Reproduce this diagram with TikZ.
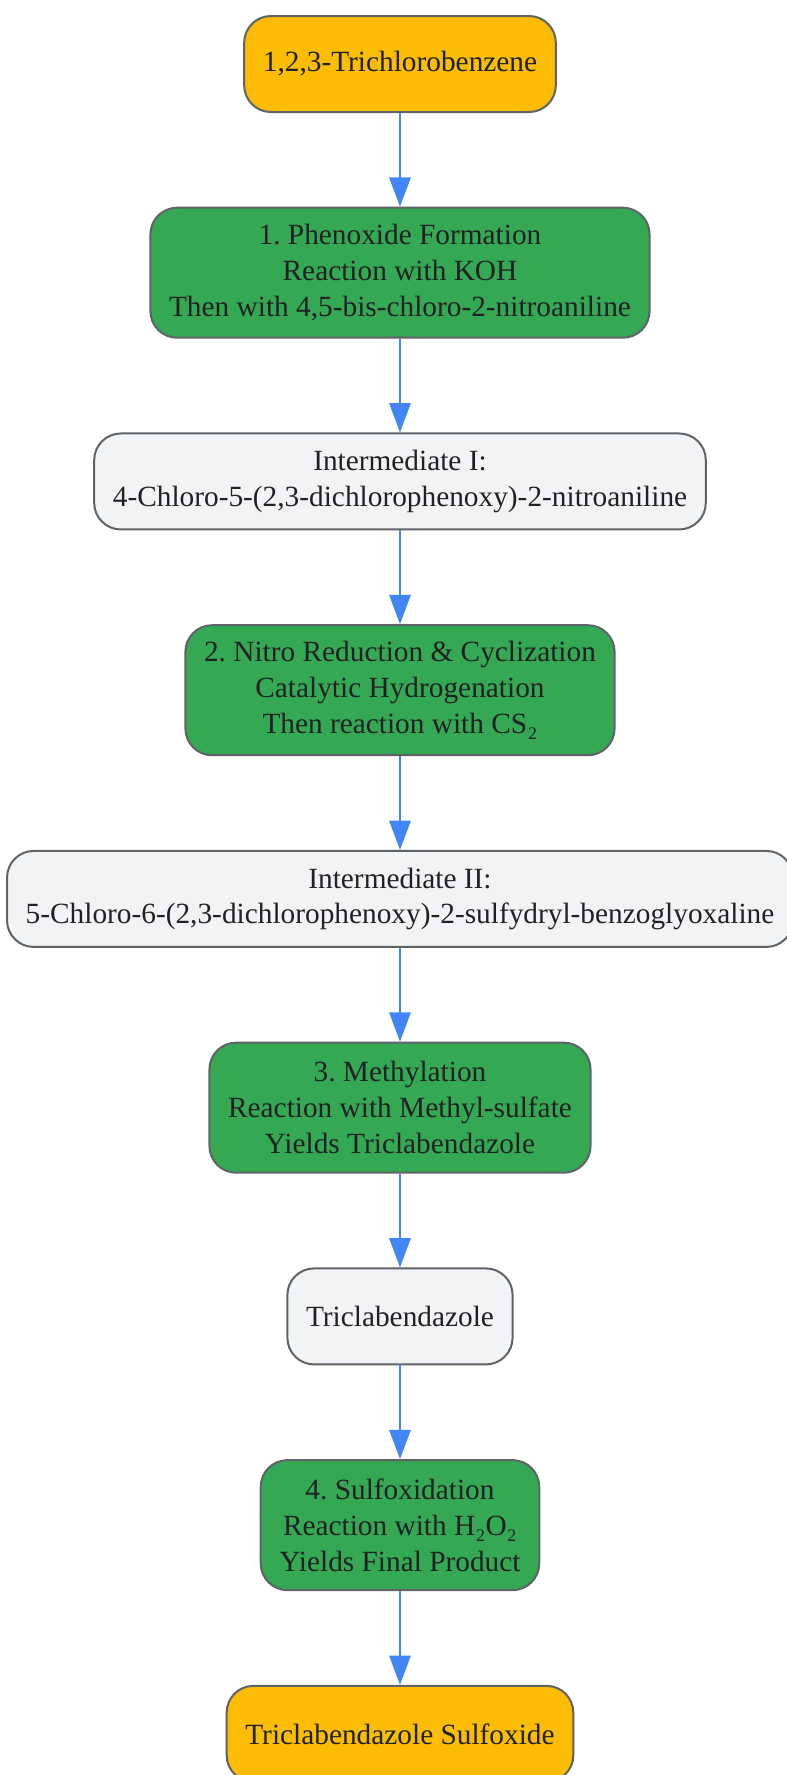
\documentclass[tikz,border=0pt]{standalone}
\usepackage{fontspec}
\setmainfont{Liberation Serif}
\usetikzlibrary{positioning,arrows.meta}
\definecolor{amarelo}{HTML}{FBBC04}
\definecolor{verde}{HTML}{34A853}
\definecolor{cinza}{HTML}{F1F3F4}
\definecolor{borda}{HTML}{5F6368}
\definecolor{azul}{HTML}{4285F4}
\definecolor{texto}{HTML}{202124}
\frenchspacing
\tikzset{
	caixa/.style={draw=borda, line width=1.5pt, rounded corners=20pt, align=center, text=texto,
		inner xsep=14pt, inner ysep=4pt, font=\fontsize{22pt}{26.8pt}\selectfont},
	inicio/.style={caixa, fill=amarelo, minimum height=72pt},
	etapa/.style={caixa, fill=verde, minimum height=97.5pt},
	produto/.style={caixa, fill=cinza, minimum height=72pt},
	seta/.style={-{Triangle[width=16pt,length=22pt]}, azul, line width=1.5pt}
}
\begin{document}
\begin{tikzpicture}[node distance=70.3pt] %Início do desenho
	\useasboundingbox (-300pt,48pt) rectangle (290.25pt,-1283.25pt); %Margens
		%Caixas
	\node[inicio] (tcb) at (0,0) {1,2,3-Trichlorobenzene};
	\node[etapa, below=of tcb] (etapa1) {1. Phenoxide Formation\\Reaction with KOH\\Then with 4,5-bis-chloro-2-nitroaniline};
	\node[produto, below=of etapa1] (inter1) {Intermediate I:\\4-Chloro-5-(2,3-dichlorophenoxy)-2-nitroaniline};
	\node[etapa, below=of inter1] (etapa2) {2. Nitro Reduction \& Cyclization\\Catalytic Hydrogenation\\Then reaction with CS₂};
	\node[produto, below=of etapa2] (inter2) {Intermediate II:\\5-Chloro-6-(2,3-dichlorophenoxy)-2-sulfydryl-benzoglyoxaline};
	\node[etapa, below=of inter2] (etapa3) {3. Methylation\\Reaction with Methyl-sulfate\\Yields Triclabendazole};
	\node[produto, below=of etapa3] (tcbz) {Triclabendazole};
	\node[etapa, below=of tcbz] (etapa4) {4. Sulfoxidation\\Reaction with H₂O₂\\Yields Final Product};
	\node[inicio, below=of etapa4] (sulfox) {Triclabendazole Sulfoxide};
		%Setas
	\draw[seta] (tcb) -- (etapa1);
	\draw[seta] (etapa1) -- (inter1);
	\draw[seta] (inter1) -- (etapa2);
	\draw[seta] (etapa2) -- (inter2);
	\draw[seta] (inter2) -- (etapa3);
	\draw[seta] (etapa3) -- (tcbz);
	\draw[seta] (tcbz) -- (etapa4);
	\draw[seta] (etapa4) -- (sulfox);
\end{tikzpicture}
\end{document}
